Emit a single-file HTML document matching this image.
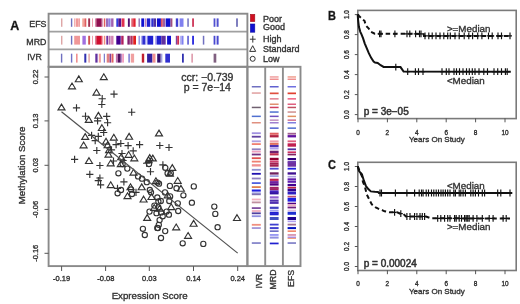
<!DOCTYPE html>
<html><head><meta charset="utf-8"><style>
html,body{margin:0;padding:0;background:#fff;width:520px;height:304px;overflow:hidden}
svg{display:block;filter:blur(0.35px)}
text{font-family:"Liberation Sans",sans-serif;stroke:#333;stroke-width:0.35px}
</style></head><body>
<svg width="520" height="304" viewBox="0 0 520 304">
<rect width="520" height="304" fill="#fff"/>
<text x="10.3" y="29.7" font-size="12.5" font-weight="bold" fill="#111">A</text>
<text x="46.4" y="27.4" font-size="8.8" text-anchor="end" fill="#333">EFS</text>
<text x="46.4" y="45" font-size="8.8" text-anchor="end" fill="#333">MRD</text>
<text x="41.8" y="60.3" font-size="8.8" text-anchor="end" fill="#333">IVR</text>
<rect x="61.3" y="18.4" width="1" height="8.4" fill="#d08080"/>
<rect x="70.9" y="18.4" width="1.4" height="8.4" fill="#7070c0"/>
<rect x="74.2" y="18.4" width="1" height="8.4" fill="#f0a0a0"/>
<rect x="75.7" y="18.4" width="2.3" height="8.4" fill="#f09898"/>
<rect x="78.2" y="18.4" width="1.8" height="8.4" fill="#f0a0a0"/>
<rect x="82.4" y="18.4" width="1.4" height="8.4" fill="#f09080"/>
<rect x="84.3" y="18.4" width="2" height="8.4" fill="#e06060"/>
<rect x="88.2" y="18.4" width="1.9" height="8.4" fill="#a03050"/>
<rect x="92" y="18.4" width="1" height="8.4" fill="#f0a0b0"/>
<rect x="95.4" y="18.4" width="1" height="8.4" fill="#c04070"/>
<rect x="96.4" y="18.4" width="5" height="8.4" fill="#901050"/>
<rect x="101.4" y="18.4" width="1" height="8.4" fill="#a02060"/>
<rect x="103.8" y="18.4" width="1.5" height="8.4" fill="#e06060"/>
<rect x="106.3" y="18.4" width="1.4" height="8.4" fill="#7030a0"/>
<rect x="108.2" y="18.4" width="2.4" height="8.4" fill="#9080e0"/>
<rect x="111.1" y="18.4" width="2.4" height="8.4" fill="#a060b0"/>
<rect x="116.3" y="18.4" width="2" height="8.4" fill="#3040e0"/>
<rect x="118.3" y="18.4" width="2.9" height="8.4" fill="#501090"/>
<rect x="121.6" y="18.4" width="2.9" height="8.4" fill="#e03050"/>
<rect x="127.9" y="18.4" width="1.9" height="8.4" fill="#501070"/>
<rect x="131.3" y="18.4" width="1.9" height="8.4" fill="#e06070"/>
<rect x="133.2" y="18.4" width="2.4" height="8.4" fill="#e02030"/>
<rect x="138.5" y="18.4" width="1.4" height="8.4" fill="#9070b0"/>
<rect x="141.3" y="18.4" width="2.9" height="8.4" fill="#1010d0"/>
<rect x="145" y="18.4" width="1.4" height="8.4" fill="#c080c0"/>
<rect x="146.9" y="18.4" width="3.4" height="8.4" fill="#2020d0"/>
<rect x="151.3" y="18.4" width="2.4" height="8.4" fill="#3030d0"/>
<rect x="153.7" y="18.4" width="2.4" height="8.4" fill="#5030a0"/>
<rect x="157" y="18.4" width="3.9" height="8.4" fill="#1010d0"/>
<rect x="160.9" y="18.4" width="1.9" height="8.4" fill="#e05060"/>
<rect x="162.8" y="18.4" width="2.4" height="8.4" fill="#a060a0"/>
<rect x="165.7" y="18.4" width="4.8" height="8.4" fill="#1010d0"/>
<rect x="170.5" y="18.4" width="1.9" height="8.4" fill="#a05080"/>
<rect x="175.8" y="18.4" width="2.4" height="8.4" fill="#4040d0"/>
<rect x="179.6" y="18.4" width="3.9" height="8.4" fill="#8080f0"/>
<rect x="187.3" y="18.4" width="1.5" height="8.4" fill="#7070c0"/>
<rect x="192.1" y="18.4" width="1.9" height="8.4" fill="#d04060"/>
<rect x="213.6" y="18.4" width="1.8" height="8.4" fill="#5050d0"/>
<rect x="216.6" y="18.4" width="2" height="8.4" fill="#5050d0"/>
<rect x="236.2" y="18.4" width="1.6" height="8.4" fill="#6060b0"/>
<rect x="61.3" y="35.8" width="1" height="8.8" fill="#d08080"/>
<rect x="70.9" y="35.8" width="1.4" height="8.8" fill="#7070c0"/>
<rect x="74.2" y="35.8" width="5.8" height="8.8" fill="#f09898"/>
<rect x="82.4" y="35.8" width="3.4" height="8.8" fill="#a070e0"/>
<rect x="88.2" y="35.8" width="1.9" height="8.8" fill="#d05050"/>
<rect x="92" y="35.8" width="1" height="8.8" fill="#f0a0b0"/>
<rect x="95.4" y="35.8" width="1" height="8.8" fill="#c03050"/>
<rect x="96.4" y="35.8" width="5" height="8.8" fill="#d01030"/>
<rect x="101.4" y="35.8" width="1" height="8.8" fill="#e01030"/>
<rect x="103.8" y="35.8" width="1.5" height="8.8" fill="#f09080"/>
<rect x="106.3" y="35.8" width="1.9" height="8.8" fill="#7030a0"/>
<rect x="108.7" y="35.8" width="1.9" height="8.8" fill="#c070b0"/>
<rect x="111.1" y="35.8" width="2.4" height="8.8" fill="#d080b0"/>
<rect x="116.3" y="35.8" width="4.4" height="8.8" fill="#400090"/>
<rect x="121.2" y="35.8" width="2.4" height="8.8" fill="#b02060"/>
<rect x="127.4" y="35.8" width="2.4" height="8.8" fill="#802070"/>
<rect x="130.3" y="35.8" width="2.4" height="8.8" fill="#b03060"/>
<rect x="133.2" y="35.8" width="2.8" height="8.8" fill="#e02020"/>
<rect x="138.5" y="35.8" width="1.4" height="8.8" fill="#9090e0"/>
<rect x="140.9" y="35.8" width="1.4" height="8.8" fill="#b0b0f0"/>
<rect x="142.3" y="35.8" width="2.9" height="8.8" fill="#3030d0"/>
<rect x="145" y="35.8" width="1.4" height="8.8" fill="#a0a0f0"/>
<rect x="147.4" y="35.8" width="5.8" height="8.8" fill="#2020d0"/>
<rect x="155.1" y="35.8" width="1" height="8.8" fill="#b0a0f0"/>
<rect x="156.5" y="35.8" width="4.8" height="8.8" fill="#2020d0"/>
<rect x="161.3" y="35.8" width="4.4" height="8.8" fill="#6030a0"/>
<rect x="167.1" y="35.8" width="3.9" height="8.8" fill="#1010d0"/>
<rect x="175.8" y="35.8" width="1.4" height="8.8" fill="#8040a0"/>
<rect x="177.2" y="35.8" width="1.9" height="8.8" fill="#d03050"/>
<rect x="180.1" y="35.8" width="1.4" height="8.8" fill="#b0b0f0"/>
<rect x="181.5" y="35.8" width="2" height="8.8" fill="#8080f0"/>
<rect x="187.3" y="35.8" width="1.5" height="8.8" fill="#5050d0"/>
<rect x="192.1" y="35.8" width="1.9" height="8.8" fill="#3030e0"/>
<rect x="202.8" y="35.8" width="1.5" height="8.8" fill="#7070c0"/>
<rect x="213.6" y="35.8" width="1.8" height="8.8" fill="#4848d0"/>
<rect x="216.6" y="35.8" width="2" height="8.8" fill="#4848d0"/>
<rect x="60.9" y="53.7" width="1.4" height="8.9" fill="#7070c0"/>
<rect x="70.9" y="53.7" width="1.4" height="8.9" fill="#7070c8"/>
<rect x="76" y="53.7" width="1.6" height="8.9" fill="#f09090"/>
<rect x="84.3" y="53.7" width="2" height="8.9" fill="#3030b0"/>
<rect x="88.4" y="53.7" width="1.4" height="8.9" fill="#e0a0a0"/>
<rect x="95.3" y="53.7" width="2.3" height="8.9" fill="#6030a0"/>
<rect x="98.8" y="53.7" width="2.1" height="8.9" fill="#f0a0a0"/>
<rect x="103.8" y="53.7" width="1" height="8.9" fill="#6060c0"/>
<rect x="106.7" y="53.7" width="2.9" height="8.9" fill="#e08080"/>
<rect x="109.6" y="53.7" width="1.5" height="8.9" fill="#8040a0"/>
<rect x="111.5" y="53.7" width="2" height="8.9" fill="#e06060"/>
<rect x="115.9" y="53.7" width="1.9" height="8.9" fill="#c070b0"/>
<rect x="117.8" y="53.7" width="2.9" height="8.9" fill="#501060"/>
<rect x="120.7" y="53.7" width="0.9" height="8.9" fill="#8040a0"/>
<rect x="122.1" y="53.7" width="1.9" height="8.9" fill="#f0a0c0"/>
<rect x="128.4" y="53.7" width="1.4" height="8.9" fill="#7070d0"/>
<rect x="130.8" y="53.7" width="3.3" height="8.9" fill="#f0a0a0"/>
<rect x="141.8" y="53.7" width="2.4" height="8.9" fill="#c02030"/>
<rect x="147.1" y="53.7" width="5.3" height="8.9" fill="#3020a0"/>
<rect x="152.6" y="53.7" width="2.9" height="8.9" fill="#f09090"/>
<rect x="157.2" y="53.7" width="3.5" height="8.9" fill="#301070"/>
<rect x="160.7" y="53.7" width="1.7" height="8.9" fill="#a0a0e0"/>
<rect x="165.3" y="53.7" width="4.7" height="8.9" fill="#3030d0"/>
<rect x="182" y="53.7" width="1.8" height="8.9" fill="#3030b0"/>
<rect x="191.3" y="53.7" width="1.7" height="8.9" fill="#e0a0b0"/>
<rect x="213.6" y="53.7" width="2.7" height="8.9" fill="#806080"/>
<g fill="none" stroke="#a0a0a0" stroke-width="1.7">
<line x1="48.6" y1="31.6" x2="247.4" y2="31.6"/>
<line x1="48.6" y1="49.4" x2="247.4" y2="49.4"/>
</g>
<rect x="48.6" y="13.7" width="198.8" height="53.1" fill="none" stroke="#8a8a8a" stroke-width="1.9"/>
<rect x="250.4" y="14.3" width="4.4" height="7.3" fill="#d01020" stroke="#a01020" stroke-width="0.6"/>
<rect x="250.4" y="24" width="4.4" height="8.2" fill="#1010d0" stroke="#1010a0" stroke-width="0.6"/>
<g font-size="9" fill="#333">
<text x="263" y="22">Poor</text>
<text x="263" y="30">Good</text>
<text x="263" y="41.8">High</text>
<text x="263" y="52.3">Standard</text>
<text x="263" y="62">Low</text>
</g>
<g fill="none" stroke="#333" stroke-width="1">
<path d="M252.8,35.8V42.6M249.9,39.2H255.7"/>
<path d="M252.7,45.7L255.7,51.4H249.7Z"/>
<circle cx="252.7" cy="58.8" r="2.5"/>
</g>
<g fill="none" stroke="#333" stroke-width="1.15">
<path d="M78.8,75.9L82.3,81.7H75.3ZM72,83L75.5,88.8H68.5ZM103.8,73.8L107.3,79.6H100.3ZM96.5,89.3L100,95.1H93ZM110.4,94.1H117.6M114,90.5V97.7M98.6,98.7H105.8M102.2,95.1V102.3M98.2,104.5H105.4M101.8,100.9V108.1M61.5,104.1L65,109.9H58ZM72.9,107.8H80.1M76.5,104.2V111.4M128.1,112.2H135.3M131.7,108.6V115.8M81.9,116.2H89.1M85.5,112.6V119.8M98.4,112.4L101.9,118.2H94.9ZM103.1,116.4H110.3M106.7,112.8V120M88.8,116.6L92.3,122.4H85.3ZM94,120.8H101.2M97.6,117.2V124.4M104,122.7H111.2M107.6,119.1V126.3M101.9,124.7L105.4,130.5H98.4ZM100.1,132.5H107.3M103.7,128.9V136.1M85.2,133.6L88.7,139.4H81.7ZM88,135.3H95.2M91.6,131.7V138.9M94.7,136.4H101.9M98.3,132.8V140M113.8,134.3L117.3,140.1H110.3ZM91.6,140.6H98.8M95.2,137V144.2M106,138.3L109.5,144.1H102.5ZM83.6,142L87.1,147.8H80.1ZM117.2,143.5H124.4M120.8,139.9V147.1M107.6,141.8L111.1,147.6H104.1ZM129.1,133.4L132.6,139.2H125.6ZM159,130.1L162.5,135.9H155.5ZM124.5,145.6H131.7M128.1,142V149.2M136,144.6H143.2M139.6,141V148.2M156.2,145.5H163.4M159.8,141.9V149.1M165.4,147.5H172.6M169,143.9V151.1M93.2,150.5H100.4M96.8,146.9V154.1M109.1,146.8L112.6,152.6H105.6ZM108.5,151.3L112,157.1H105ZM71,159.3H78.2M74.6,155.7V162.9M89,157.7L92.5,163.5H85.5ZM96.3,165.5H103.5M99.9,161.9V169.1M110.7,160L114.2,165.8H107.2ZM112.5,144.6H119.7M116.1,141V148.2M118.4,153.5H125.6M122,149.9V157.1M120.8,160.8L124.3,166.6H117.3ZM86.2,174.4H93.4M89.8,170.8V178M94.7,180.6H101.9M98.3,177V184.2M120.3,181.8H127.5M123.9,178.2V185.4M110.7,181.8L114.2,187.6H107.2ZM97,184.9H104.2M100.6,181.3V188.5M96.3,178H103.5M99.9,174.4V181.6M107.9,149.9H115.1M111.5,146.3V153.5M129.6,150.9H136.8M133.2,147.3V154.5M128.6,151.5L132.1,157.3H125.1ZM134.3,155L137.8,160.8H130.8ZM121.2,153.9L124.7,159.7H117.7ZM119.5,160.5H126.7M123.1,156.9V164.1M109.9,161H117.1M113.5,157.4V164.6M148.6,156.8L152.1,162.6H145.1ZM149.7,154.6L153.2,160.4H146.2ZM152.8,155.1L156.3,160.9H149.3ZM143,163.2H150.2M146.6,159.6V166.8M159.3,164.8H166.5M162.9,161.2V168.4M172.3,164.6L175.8,170.4H168.8ZM169.9,170.3L173.4,176.1H166.4ZM146.9,171.7H154.1M150.5,168.1V175.3M133.5,169.3L137,175.1H130ZM155.9,177.8L159.4,183.6H152.4ZM177.7,177.5L181.2,183.3H174.2ZM113.9,188.3H121.1M117.5,184.7V191.9M130.5,183.8L134,189.6H127ZM127.5,192.8L131,198.6H124ZM132.4,192.3H139.6M136,188.7V195.9M141.7,183.9L145.2,189.7H138.2ZM143.6,196.2L147.1,202H140.1ZM151.5,193.7L155,199.5H148ZM167.7,192L171.2,197.8H164.2ZM180.9,185.4L184.4,191.2H177.4ZM147.2,214.6L150.7,220.4H143.7ZM154.2,204.5L157.7,210.3H150.7ZM159.6,205.3L163.1,211.1H156.1ZM171.2,203.8L174.7,209.6H167.7ZM176.2,224L179.7,229.8H172.7ZM237,214.7L240.5,220.5H233.5ZM193.6,220.4L197.1,226.2H190.1ZM188.1,232.5L191.6,238.3H184.6Z"/>
<circle cx="118.4" cy="173.3" r="2.6"/>
<circle cx="149" cy="164" r="2.6"/>
<circle cx="165.3" cy="167.8" r="2.6"/>
<circle cx="167.6" cy="173.2" r="2.6"/>
<circle cx="127.3" cy="168.6" r="2.6"/>
<circle cx="122.6" cy="164" r="2.6"/>
<circle cx="138.1" cy="176.4" r="2.6"/>
<circle cx="142" cy="178.7" r="2.6"/>
<circle cx="146.8" cy="182.2" r="2.6"/>
<circle cx="157.5" cy="182.6" r="2.6"/>
<circle cx="169.9" cy="185.9" r="2.6"/>
<circle cx="176.5" cy="188.2" r="2.6"/>
<circle cx="193.8" cy="186.4" r="2.6"/>
<circle cx="117.6" cy="193.3" r="2.6"/>
<circle cx="121" cy="190" r="2.6"/>
<circle cx="131" cy="189.5" r="2.6"/>
<circle cx="132" cy="194" r="2.6"/>
<circle cx="149.8" cy="190" r="2.6"/>
<circle cx="151" cy="192.3" r="2.6"/>
<circle cx="159" cy="183.7" r="2.6"/>
<circle cx="157.3" cy="197.5" r="2.6"/>
<circle cx="158.4" cy="201.5" r="2.6"/>
<circle cx="165" cy="192.4" r="2.6"/>
<circle cx="154.4" cy="205.6" r="2.6"/>
<circle cx="158.4" cy="207.3" r="2.6"/>
<circle cx="170.8" cy="173.2" r="2.6"/>
<circle cx="183.4" cy="195.3" r="2.6"/>
<circle cx="170.1" cy="196.4" r="2.6"/>
<circle cx="169.3" cy="201" r="2.6"/>
<circle cx="177.8" cy="203.3" r="2.6"/>
<circle cx="191.9" cy="202.7" r="2.6"/>
<circle cx="214.3" cy="206.6" r="2.6"/>
<circle cx="160.8" cy="201" r="2.6"/>
<circle cx="149.5" cy="211.6" r="2.6"/>
<circle cx="156.5" cy="213.2" r="2.6"/>
<circle cx="161.1" cy="212.4" r="2.6"/>
<circle cx="162.7" cy="216.3" r="2.6"/>
<circle cx="166.6" cy="211.6" r="2.6"/>
<circle cx="168.9" cy="214.7" r="2.6"/>
<circle cx="159.6" cy="220.1" r="2.6"/>
<circle cx="158.8" cy="224.8" r="2.6"/>
<circle cx="157.3" cy="227.9" r="2.6"/>
<circle cx="142.9" cy="228.8" r="2.6"/>
<circle cx="144.8" cy="235" r="2.6"/>
<circle cx="165.2" cy="231.1" r="2.6"/>
<circle cx="161" cy="238" r="2.6"/>
<circle cx="178.2" cy="211" r="2.6"/>
<circle cx="215.3" cy="213.9" r="2.6"/>
<circle cx="217.6" cy="227.2" r="2.6"/>
<circle cx="182.7" cy="243.3" r="2.6"/>
<circle cx="203.3" cy="243.9" r="2.6"/>
<circle cx="157.9" cy="228.1" r="2.6"/>
</g>
<line x1="61.5" y1="111.8" x2="237.7" y2="253.1" stroke="#505050" stroke-width="1.2"/>
<g font-size="10.5" fill="#333" text-anchor="middle" style="stroke-width:0.5px">
<text x="207.3" y="81.2">ccr: −0.739</text>
<text x="207.3" y="91.2">p = 7e−14</text>
</g>
<rect x="251.8" y="86" width="9" height="1.5" fill="#7070c0"/>
<rect x="251.8" y="92.3" width="9" height="1.5" fill="#e0a0a0"/>
<rect x="251.8" y="106.7" width="9" height="1.5" fill="#706070"/>
<rect x="251.8" y="115.6" width="9" height="1.5" fill="#5070d0"/>
<rect x="251.8" y="122" width="9" height="1.5" fill="#e09080"/>
<rect x="251.8" y="132.3" width="9" height="1.8" fill="#a090e0"/>
<rect x="251.8" y="135.8" width="9" height="1.8" fill="#6040a0"/>
<rect x="251.8" y="140.4" width="9" height="1.8" fill="#b0a0e0"/>
<rect x="251.8" y="143.2" width="9" height="1.8" fill="#f08070"/>
<rect x="251.8" y="148.4" width="9" height="1.8" fill="#9080c0"/>
<rect x="251.8" y="150.7" width="9" height="1.8" fill="#f0a0c0"/>
<rect x="251.8" y="153.6" width="9" height="1.8" fill="#703080"/>
<rect x="251.8" y="157.3" width="9" height="1.8" fill="#e05050"/>
<rect x="251.8" y="160.7" width="9" height="1.8" fill="#f08070"/>
<rect x="251.8" y="164.2" width="9" height="2.3" fill="#f09090"/>
<rect x="251.8" y="168.9" width="9" height="1.8" fill="#9090d0"/>
<rect x="251.8" y="172.9" width="9" height="1.8" fill="#2010b0"/>
<rect x="251.8" y="177.6" width="9" height="1.8" fill="#9080c0"/>
<rect x="251.8" y="182.2" width="9" height="1.8" fill="#5060e0"/>
<rect x="251.8" y="186.2" width="9" height="1.8" fill="#e08050"/>
<rect x="251.8" y="189.5" width="9" height="2.1" fill="#2020e0"/>
<rect x="251.8" y="192.4" width="9" height="1.6" fill="#a0a0e0"/>
<rect x="251.8" y="193.6" width="9" height="1.6" fill="#8070b0"/>
<rect x="251.8" y="198.6" width="9" height="1.8" fill="#f0b0c0"/>
<rect x="251.8" y="201.5" width="9" height="1.8" fill="#c090a0"/>
<rect x="251.8" y="207.2" width="9" height="1.8" fill="#8050a0"/>
<rect x="251.8" y="210.1" width="9" height="1.8" fill="#f0b0c0"/>
<rect x="251.8" y="212.4" width="9" height="1.8" fill="#5040a0"/>
<rect x="251.8" y="215.3" width="9" height="1.8" fill="#9090e0"/>
<rect x="251.8" y="223.9" width="9" height="1.8" fill="#f09080"/>
<rect x="251.8" y="227.3" width="9" height="1.5" fill="#9080d0"/>
<rect x="251.8" y="242.3" width="9" height="1.5" fill="#7070c0"/>
<rect x="269.8" y="76.2" width="8.8" height="1.5" fill="#f0a0a0"/>
<rect x="269.8" y="78.5" width="8.8" height="1.5" fill="#f09090"/>
<rect x="269.8" y="86" width="8.8" height="1.5" fill="#6060d0"/>
<rect x="269.8" y="92.5" width="8.8" height="1.7" fill="#e05040"/>
<rect x="269.8" y="98.1" width="8.8" height="1.5" fill="#e08090"/>
<rect x="269.8" y="103.5" width="8.8" height="1.5" fill="#e09070"/>
<rect x="269.8" y="106.7" width="8.8" height="1.5" fill="#d04060"/>
<rect x="269.8" y="111.3" width="8.8" height="1.5" fill="#5070d0"/>
<rect x="269.8" y="115.6" width="8.8" height="1.5" fill="#7050c0"/>
<rect x="269.8" y="119.4" width="8.8" height="1.5" fill="#c090c0"/>
<rect x="269.8" y="122" width="8.8" height="1.5" fill="#a080d0"/>
<rect x="269.8" y="127.4" width="8.8" height="1.5" fill="#5060d0"/>
<rect x="269.8" y="132.7" width="8.8" height="2.1" fill="#e06060"/>
<rect x="269.8" y="135.1" width="8.8" height="2.3" fill="#b02040"/>
<rect x="269.8" y="140.4" width="8.8" height="1.8" fill="#f0a0b0"/>
<rect x="269.8" y="142.7" width="8.8" height="2.2" fill="#e07060"/>
<rect x="269.8" y="145" width="8.8" height="2.2" fill="#5030b0"/>
<rect x="269.8" y="147.4" width="8.8" height="2.1" fill="#b0a0f0"/>
<rect x="269.8" y="150.7" width="8.8" height="2.3" fill="#702070"/>
<rect x="269.8" y="153.2" width="8.8" height="2.2" fill="#c03050"/>
<rect x="269.8" y="157.8" width="8.8" height="2.2" fill="#900030"/>
<rect x="269.8" y="160.4" width="8.8" height="2.1" fill="#d04070"/>
<rect x="269.8" y="162.6" width="8.8" height="2.1" fill="#a02050"/>
<rect x="269.8" y="164.6" width="8.8" height="2.1" fill="#a02050"/>
<rect x="269.8" y="167.8" width="8.8" height="1.8" fill="#5050d0"/>
<rect x="269.8" y="172.3" width="8.8" height="2.3" fill="#702060"/>
<rect x="269.8" y="175.2" width="8.8" height="1.8" fill="#a0a0e0"/>
<rect x="269.8" y="178.7" width="8.8" height="2.2" fill="#c02050"/>
<rect x="269.8" y="181.1" width="8.8" height="2.2" fill="#7020a0"/>
<rect x="269.8" y="183.3" width="8.8" height="2.3" fill="#500080"/>
<rect x="269.8" y="186.8" width="8.8" height="2.1" fill="#a02060"/>
<rect x="269.8" y="188.5" width="8.8" height="1.8" fill="#a02060"/>
<rect x="269.8" y="190.4" width="8.8" height="2.1" fill="#4020c0"/>
<rect x="269.8" y="192.1" width="8.8" height="2.3" fill="#3010a0"/>
<rect x="269.8" y="196.3" width="8.8" height="2.2" fill="#9060d0"/>
<rect x="269.8" y="199.6" width="8.8" height="2.1" fill="#5030b0"/>
<rect x="269.8" y="201.8" width="8.8" height="2.1" fill="#5030b0"/>
<rect x="269.8" y="206.7" width="8.8" height="2.2" fill="#4040c0"/>
<rect x="269.8" y="209.7" width="8.8" height="1.6" fill="#a0a0f0"/>
<rect x="269.8" y="211.8" width="8.8" height="2.1" fill="#2020d0"/>
<rect x="269.8" y="213.5" width="8.8" height="1.8" fill="#2020d0"/>
<rect x="269.8" y="217" width="8.8" height="3" fill="#4050c0"/>
<rect x="269.8" y="223.7" width="8.8" height="1.8" fill="#4040d0"/>
<rect x="269.8" y="227.1" width="8.8" height="2" fill="#4040d0"/>
<rect x="269.8" y="230.4" width="8.8" height="1.5" fill="#6060c0"/>
<rect x="269.8" y="234.2" width="8.8" height="1.5" fill="#8080f0"/>
<rect x="269.8" y="236.6" width="8.8" height="2" fill="#9090e0"/>
<rect x="269.8" y="242.6" width="8.8" height="1.7" fill="#2020d0"/>
<rect x="287.6" y="76.2" width="8.4" height="1.5" fill="#f0a090"/>
<rect x="287.6" y="78.5" width="8.4" height="1.5" fill="#f09090"/>
<rect x="287.6" y="86" width="8.4" height="1.5" fill="#7070e0"/>
<rect x="287.6" y="92.5" width="8.4" height="1.7" fill="#e04030"/>
<rect x="287.6" y="98.1" width="8.4" height="1.5" fill="#f06080"/>
<rect x="287.6" y="103.5" width="8.4" height="1.5" fill="#e06080"/>
<rect x="287.6" y="106.7" width="8.4" height="1.5" fill="#c05060"/>
<rect x="287.6" y="111.3" width="8.4" height="1.5" fill="#d09090"/>
<rect x="287.6" y="115.6" width="8.4" height="1.5" fill="#e09060"/>
<rect x="287.6" y="119.4" width="8.4" height="1.5" fill="#d07090"/>
<rect x="287.6" y="122" width="8.4" height="1.5" fill="#8080e0"/>
<rect x="287.6" y="127.4" width="8.4" height="1.5" fill="#5070d0"/>
<rect x="287.6" y="132.8" width="8.4" height="1.8" fill="#a06090"/>
<rect x="287.6" y="135.1" width="8.4" height="2.3" fill="#6010a0"/>
<rect x="287.6" y="140.4" width="8.4" height="1.8" fill="#e06080"/>
<rect x="287.6" y="143.3" width="8.4" height="1.8" fill="#c02050"/>
<rect x="287.6" y="144.9" width="8.4" height="1.8" fill="#c02050"/>
<rect x="287.6" y="148.4" width="8.4" height="1.8" fill="#5030a0"/>
<rect x="287.6" y="151.4" width="8.4" height="1.7" fill="#d03060"/>
<rect x="287.6" y="153.7" width="8.4" height="1.7" fill="#802060"/>
<rect x="287.6" y="158" width="8.4" height="2.1" fill="#300080"/>
<rect x="287.6" y="160.9" width="8.4" height="2.1" fill="#7040b0"/>
<rect x="287.6" y="162.5" width="8.4" height="4.2" fill="#7030a0"/>
<rect x="287.6" y="167.8" width="8.4" height="1.8" fill="#2020e0"/>
<rect x="287.6" y="172.3" width="8.4" height="2.3" fill="#401090"/>
<rect x="287.6" y="175.9" width="8.4" height="1.6" fill="#b0a0e0"/>
<rect x="287.6" y="178.3" width="8.4" height="2.1" fill="#6020b0"/>
<rect x="287.6" y="180.7" width="8.4" height="2.1" fill="#6020b0"/>
<rect x="287.6" y="183.9" width="8.4" height="2.3" fill="#400090"/>
<rect x="287.6" y="186.9" width="8.4" height="1.6" fill="#c02040"/>
<rect x="287.6" y="188.7" width="8.4" height="2.6" fill="#300090"/>
<rect x="287.6" y="191.6" width="8.4" height="2.9" fill="#3020c0"/>
<rect x="287.6" y="195.8" width="8.4" height="1.6" fill="#c05070"/>
<rect x="287.6" y="197.8" width="8.4" height="3.8" fill="#2020e0"/>
<rect x="287.6" y="202.7" width="8.4" height="1.6" fill="#500080"/>
<rect x="287.6" y="204.5" width="8.4" height="1.6" fill="#f0b0c0"/>
<rect x="287.6" y="206.6" width="8.4" height="1.8" fill="#702080"/>
<rect x="287.6" y="209.7" width="8.4" height="1.6" fill="#e0c0e0"/>
<rect x="287.6" y="211.8" width="8.4" height="3" fill="#2030d0"/>
<rect x="287.6" y="217" width="8.4" height="3" fill="#200090"/>
<rect x="287.6" y="220.6" width="8.4" height="1.6" fill="#b0a0f0"/>
<rect x="287.6" y="223.7" width="8.4" height="1.8" fill="#a07090"/>
<rect x="287.6" y="227.1" width="8.4" height="2" fill="#0010c0"/>
<rect x="287.6" y="230.4" width="8.4" height="1.5" fill="#f08060"/>
<rect x="287.6" y="234.2" width="8.4" height="1.5" fill="#d080a0"/>
<rect x="287.6" y="236.6" width="8.4" height="1.3" fill="#a080e0"/>
<rect x="287.6" y="237.9" width="8.4" height="1.1" fill="#f0a080"/>
<rect x="287.6" y="242.3" width="8.4" height="1.5" fill="#7070c0"/>
<g fill="none" stroke="#8a8a8a" stroke-width="1.9">
<rect x="48.6" y="66.8" width="198.8" height="199.3"/>
<rect x="247.4" y="66.8" width="53.1" height="199.3"/>
<line x1="265.2" y1="66.8" x2="265.2" y2="266.1" stroke="#8e8e8e"/>
<line x1="282.9" y1="66.8" x2="282.9" y2="266.1" stroke="#8e8e8e"/>
</g>
<g stroke="#555" stroke-width="1">
<line x1="44.5" y1="77" x2="48.6" y2="77"/>
<line x1="44.5" y1="120.9" x2="48.6" y2="120.9"/>
<line x1="44.5" y1="165.3" x2="48.6" y2="165.3"/>
<line x1="44.5" y1="209.4" x2="48.6" y2="209.4"/>
<line x1="44.5" y1="253.3" x2="48.6" y2="253.3"/>
<line x1="61.6" y1="266.1" x2="61.6" y2="271" />
<line x1="105.6" y1="266.1" x2="105.6" y2="271" />
<line x1="149.3" y1="266.1" x2="149.3" y2="271" />
<line x1="193.5" y1="266.1" x2="193.5" y2="271" />
<line x1="237.7" y1="266.1" x2="237.7" y2="271" />
</g>
<g font-size="7.5" fill="#333" text-anchor="middle" style="stroke-width:0.12px">
<text transform="translate(37.6,77) rotate(-90)">0.22</text>
<text transform="translate(37.6,120.9) rotate(-90)">0.13</text>
<text transform="translate(37.6,165.3) rotate(-90)">0.03</text>
<text transform="translate(37.6,209.4) rotate(-90)">-0.06</text>
<text transform="translate(37.6,253.3) rotate(-90)">-0.16</text>
<text x="61.6" y="281">-0.19</text>
<text x="105.8" y="281">-0.08</text>
<text x="149.3" y="281">0.03</text>
<text x="193.5" y="281">0.14</text>
<text x="237.7" y="281">0.24</text>
</g>
<text x="149.6" y="298.8" font-size="9.7" fill="#333" text-anchor="middle">Expression Score</text>
<text transform="translate(24.8,165.5) rotate(-90)" font-size="9.7" fill="#333" text-anchor="middle">Methylation Score</text>
<g font-size="8.8" fill="#333" text-anchor="end">
<text transform="translate(261.5,273.8) rotate(-90)">IVR</text>
<text transform="translate(276,269.5) rotate(-90)">MRD</text>
<text transform="translate(293.6,269.8) rotate(-90)">EFS</text>
</g>
<text transform="translate(327.9,19.8) scale(0.88,1)" font-size="12.5" font-weight="bold" fill="#111">B</text>
<rect x="357.8" y="10.4" width="158.4" height="108.2" fill="none" stroke="#7a7a7a" stroke-width="1.6"/>
<g stroke="#555" stroke-width="1">
<line x1="354.8" y1="114.6" x2="357.8" y2="114.6"/>
<line x1="354.8" y1="94.6" x2="357.8" y2="94.6"/>
<line x1="354.8" y1="74.6" x2="357.8" y2="74.6"/>
<line x1="354.8" y1="54.6" x2="357.8" y2="54.6"/>
<line x1="354.8" y1="34.6" x2="357.8" y2="34.6"/>
<line x1="354.8" y1="14.6" x2="357.8" y2="14.6"/>
<line x1="358" y1="118.3" x2="358" y2="122.3"/>
<line x1="387.4" y1="118.3" x2="387.4" y2="122.3"/>
<line x1="416.8" y1="118.3" x2="416.8" y2="122.3"/>
<line x1="446.2" y1="118.3" x2="446.2" y2="122.3"/>
<line x1="475.6" y1="118.3" x2="475.6" y2="122.3"/>
<line x1="505" y1="118.3" x2="505" y2="122.3"/>
</g>
<g font-size="6.4" fill="#333" text-anchor="middle" style="stroke-width:0.1px">
<text transform="translate(349.4,114.6) rotate(-90)">0.0</text>
<text transform="translate(349.4,94.6) rotate(-90)">0.2</text>
<text transform="translate(349.4,74.6) rotate(-90)">0.4</text>
<text transform="translate(349.4,54.6) rotate(-90)">0.6</text>
<text transform="translate(349.4,34.6) rotate(-90)">0.8</text>
<text transform="translate(349.4,14.6) rotate(-90)">1.0</text>
<text x="358" y="134.5">0</text>
<text x="387.4" y="134.5">2</text>
<text x="416.8" y="134.5">4</text>
<text x="446.2" y="134.5">6</text>
<text x="475.6" y="134.5">8</text>
<text x="505" y="134.5">10</text>
</g>
<text x="436.9" y="142.4" font-size="8" fill="#333" text-anchor="middle">Years On Study</text>
<path d="M357.7,14.4L358.1,20.2L358.9,26.8L360.3,31.8L361.4,34.2L363.1,38.4L364.7,43.3L366.4,47.4L368.8,53.2L371.3,58.1L373.6,61.6L375,62.6L377.7,62.9L380.6,65.2L383.6,66.9L400.5,67.1L403.6,71.6L510.8,71.8" fill="none" stroke="#111" stroke-width="2"/>
<path d="M357.8,14.4L359,15.9L361.9,18.9L364.5,20.8L365.8,25.4L368.8,28.7L370.8,31.7L374.7,33.7L423.6,33.9L424,35.9L510.8,36" fill="none" stroke="#111" stroke-width="2" stroke-dasharray="4.5,3"/>
<path d="M395.8,63.7V70.5M393.8,67.1H397.8M407.7,68.3V75.1M405.7,71.7H409.7M415.4,68.3V75.1M413.4,71.7H417.4M418.5,68.3V75.1M416.5,71.7H420.5M423,68.3V75.1M421,71.7H425M442,68.3V75.1M440,71.7H444M446.3,68.3V75.1M444.3,71.7H448.3M449,68.3V75.1M447,71.7H451M454,68.3V75.1M452,71.7H456M456.5,68.3V75.1M454.5,71.7H458.5M459.5,68.3V75.1M457.5,71.7H461.5M463,68.3V75.1M461,71.7H465M466.5,68.3V75.1M464.5,71.7H468.5M469.3,68.3V75.1M467.3,71.7H471.3M472.3,68.3V75.1M470.3,71.7H474.3M475,68.3V75.1M473,71.7H477M479,68.3V75.1M477,71.7H481M483.8,68.3V75.1M481.8,71.7H485.8M487.5,68.3V75.1M485.5,71.7H489.5M494,68.3V75.1M492,71.7H496M497.7,68.3V75.1M495.7,71.7H499.7M501.5,68.3V75.1M499.5,71.7H503.5M505.4,68.3V75.1M503.4,71.7H507.4M507.2,68.3V75.1M505.2,71.7H509.2M379.6,30.4V37.2M377.6,33.8H381.6M381,30.4V37.2M379,33.8H383M394.9,30.4V37.2M392.9,33.8H396.9M407,30.4V37.2M405,33.8H409M409.8,30.4V37.2M407.8,33.8H411.8M415.6,30.4V37.2M413.6,33.8H417.6M419.5,30.4V37.2M417.5,33.8H421.5M421,30.4V37.2M419,33.8H423M425,32.5V39.3M423,35.9H427M428.8,32.5V39.3M426.8,35.9H430.8M432.2,32.5V39.3M430.2,35.9H434.2M436,32.5V39.3M434,35.9H438M440,32.5V39.3M438,35.9H442M443.8,32.5V39.3M441.8,35.9H445.8M447.7,32.5V39.3M445.7,35.9H449.7M450.3,32.5V39.3M448.3,35.9H452.3M455,32.5V39.3M453,35.9H457M459.2,32.5V39.3M457.2,35.9H461.2M464.2,32.5V39.3M462.2,35.9H466.2M468.8,32.5V39.3M466.8,35.9H470.8M472.6,32.5V39.3M470.6,35.9H474.6M477.7,32.5V39.3M475.7,35.9H479.7M481.9,32.5V39.3M479.9,35.9H483.9M488.5,32.5V39.3M486.5,35.9H490.5M492.2,32.5V39.3M490.2,35.9H494.2M498,32.5V39.3M496,35.9H500M501.5,32.5V39.3M499.5,35.9H503.5M510,32.5V39.3M508,35.9H512" stroke="#111" stroke-width="1.15"/>
<g font-size="9.8" fill="#333">
<text x="446.9" y="31.6">&gt;=Median</text>
<text x="446.9" y="84">&lt;Median</text>
</g>
<text x="363.7" y="114.9" font-size="10" fill="#333" style="stroke-width:0.5px">p = 3e−05</text>
<text transform="translate(327.9,168.7) scale(0.88,1)" font-size="12.5" font-weight="bold" fill="#111">C</text>
<rect x="357.8" y="162.3" width="158.4" height="108.2" fill="none" stroke="#7a7a7a" stroke-width="1.6"/>
<g stroke="#555" stroke-width="1">
<line x1="354.8" y1="266.5" x2="357.8" y2="266.5"/>
<line x1="354.8" y1="246.5" x2="357.8" y2="246.5"/>
<line x1="354.8" y1="226.5" x2="357.8" y2="226.5"/>
<line x1="354.8" y1="206.5" x2="357.8" y2="206.5"/>
<line x1="354.8" y1="186.5" x2="357.8" y2="186.5"/>
<line x1="354.8" y1="166.5" x2="357.8" y2="166.5"/>
<line x1="358" y1="270.2" x2="358" y2="274.2"/>
<line x1="387.4" y1="270.2" x2="387.4" y2="274.2"/>
<line x1="416.8" y1="270.2" x2="416.8" y2="274.2"/>
<line x1="446.2" y1="270.2" x2="446.2" y2="274.2"/>
<line x1="475.6" y1="270.2" x2="475.6" y2="274.2"/>
<line x1="505" y1="270.2" x2="505" y2="274.2"/>
</g>
<g font-size="6.4" fill="#333" text-anchor="middle" style="stroke-width:0.1px">
<text transform="translate(349.4,266.5) rotate(-90)">0.0</text>
<text transform="translate(349.4,246.5) rotate(-90)">0.2</text>
<text transform="translate(349.4,226.5) rotate(-90)">0.4</text>
<text transform="translate(349.4,206.5) rotate(-90)">0.6</text>
<text transform="translate(349.4,186.5) rotate(-90)">0.8</text>
<text transform="translate(349.4,166.5) rotate(-90)">1.0</text>
<text x="358" y="286.4">0</text>
<text x="387.4" y="286.4">2</text>
<text x="416.8" y="286.4">4</text>
<text x="446.2" y="286.4">6</text>
<text x="475.6" y="286.4">8</text>
<text x="505" y="286.4">10</text>
</g>
<text x="436.9" y="294.3" font-size="8" fill="#333" text-anchor="middle">Years On Study</text>
<path d="M357.8,166.3L358.9,170.9L360.5,172.8L361.9,174.2L363.9,180.7L365.8,185.7L367.8,188.6L370.8,191.4L374.7,191.8L378,192L379,192.9L512.3,193.1" fill="none" stroke="#111" stroke-width="2"/>
<path d="M357.8,166.3L359.9,171.9L361.9,176L362.9,181.7L364.9,186.7L366.8,194.5L369.8,200.5L371.8,204.4L375.7,207.4L377.7,208.4L382.6,210.3L384.6,211.3L389.5,212.3L397,212.3L400,213.5L403,213.6L406,216.5L426,216.5L431,218.3L510,218.5" fill="none" stroke="#111" stroke-width="2" stroke-dasharray="4.5,3"/>
<path d="M380,189.6V196.4M378,193H382M381.5,189.6V196.4M379.5,193H383.5M395.4,189.6V196.4M393.4,193H397.4M406.9,189.6V196.4M404.9,193H408.9M414.6,189.6V196.4M412.6,193H416.6M419.2,189.6V196.4M417.2,193H421.2M421.5,189.6V196.4M419.5,193H423.5M423.1,189.6V196.4M421.1,193H425.1M426.2,189.6V196.4M424.2,193H428.2M428.5,189.6V196.4M426.5,193H430.5M431.5,189.6V196.4M429.5,193H433.5M433.8,189.6V196.4M431.8,193H435.8M436.2,189.6V196.4M434.2,193H438.2M438.5,189.6V196.4M436.5,193H440.5M441,189.6V196.4M439,193H443M443.1,189.6V196.4M441.1,193H445.1M445.4,189.6V196.4M443.4,193H447.4M447.7,189.6V196.4M445.7,193H449.7M450,189.6V196.4M448,193H452M453.8,189.6V196.4M451.8,193H455.8M455.4,189.6V196.4M453.4,193H457.4M459.2,189.6V196.4M457.2,193H461.2M460.8,189.6V196.4M458.8,193H462.8M463.1,189.6V196.4M461.1,193H465.1M465.4,189.6V196.4M463.4,193H467.4M470.8,189.6V196.4M468.8,193H472.8M473.1,189.6V196.4M471.1,193H475.1M475.4,189.6V196.4M473.4,193H477.4M478.5,189.6V196.4M476.5,193H480.5M482.3,189.6V196.4M480.3,193H484.3M484.6,189.6V196.4M482.6,193H486.6M497.7,189.6V196.4M495.7,193H499.7M500.8,189.6V196.4M498.8,193H502.8M510,189.6V196.4M508,193H512M394.6,208.9V215.7M392.6,212.3H396.6M400.8,210.2V217M398.8,213.6H402.8M406.9,213.1V219.9M404.9,216.5H408.9M410,213.1V219.9M408,216.5H412M414.6,213.1V219.9M412.6,216.5H416.6M416.9,213.1V219.9M414.9,216.5H418.9M420,213.1V219.9M418,216.5H422M422.3,213.1V219.9M420.3,216.5H424.3M424.6,213.1V219.9M422.6,216.5H426.6M437.7,215V221.8M435.7,218.4H439.7M440.8,215V221.8M438.8,218.4H442.8M444.6,215V221.8M442.6,218.4H446.6M447.7,215V221.8M445.7,218.4H449.7M450,215V221.8M448,218.4H452M454.6,215V221.8M452.6,218.4H456.6M456.2,215V221.8M454.2,218.4H458.2M459.2,215V221.8M457.2,218.4H461.2M461.5,215V221.8M459.5,218.4H463.5M464.6,215V221.8M462.6,218.4H466.6M466.2,215V221.8M464.2,218.4H468.2M467.7,215V221.8M465.7,218.4H469.7M469.2,215V221.8M467.2,218.4H471.2M473.1,215V221.8M471.1,218.4H475.1M476.9,215V221.8M474.9,218.4H478.9M482.3,215V221.8M480.3,218.4H484.3M489.2,215V221.8M487.2,218.4H491.2M493.1,215V221.8M491.1,218.4H495.1M503.1,215V221.8M501.1,218.4H505.1M506.2,215V221.8M504.2,218.4H508.2" stroke="#111" stroke-width="1.15"/>
<g font-size="9.8" fill="#333">
<text x="446.9" y="188.6">&lt;Median</text>
<text x="446.9" y="229.5">&gt;=Median</text>
</g>
<text x="363.7" y="266.8" font-size="10" fill="#333" style="stroke-width:0.5px">p = 0.00024</text>
</svg>
</body></html>
